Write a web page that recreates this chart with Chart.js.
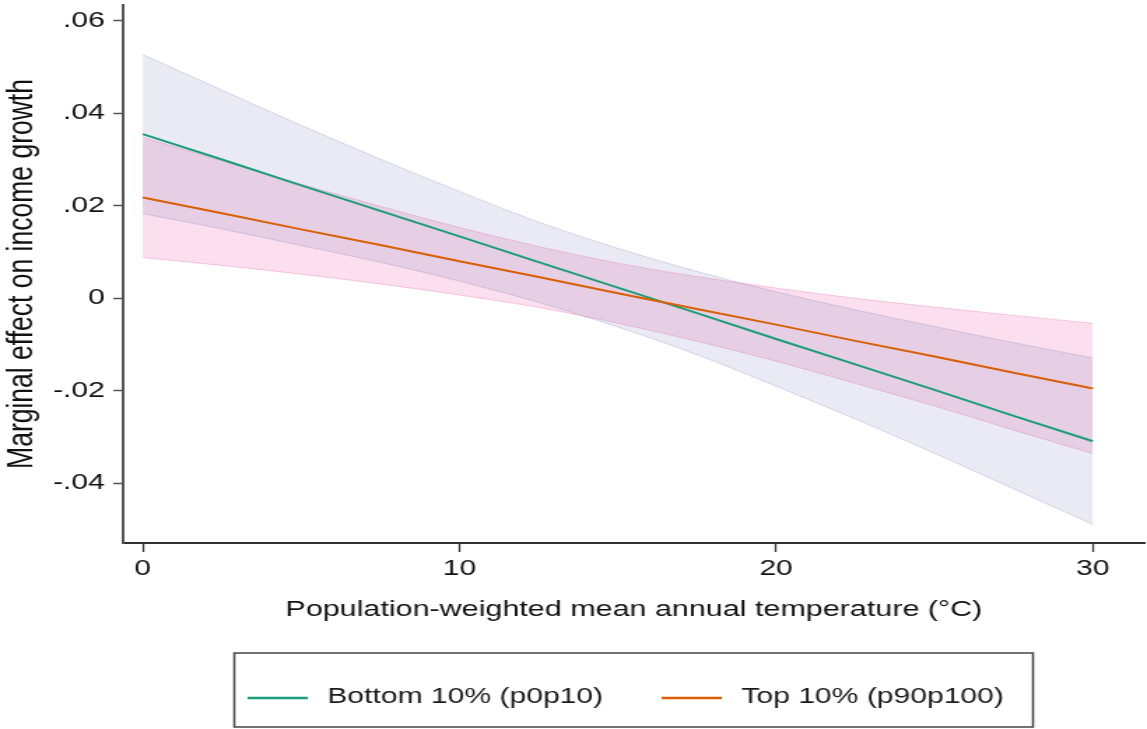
<!DOCTYPE html>
<html>
<head>
<meta charset="utf-8">
<script src="https://cdn.jsdelivr.net/npm/chart.js@4/dist/chart.umd.min.js"></script>
<style>
  html,body{margin:0;padding:0;background:#fff;overflow:hidden;}
  /* the reference is stretched sideways, so draw narrow and widen it */
  #wrap{width:820px;height:729px;transform:scaleX(1.39878);transform-origin:0 0;}
  #chart{display:block;}
</style>
</head>
<body>
<div id="wrap"><canvas id="chart" width="820" height="729"></canvas></div>
<script>
const temps=[0,2.5,5,7.5,10,12.5,15,17.5,20,22.5,25,27.5,30]
const bottomEffect=[0.0355,0.0300,0.0244,0.0189,0.0134,0.0078,0.0023,-0.0032,-0.0088,-0.0143,-0.0198,-0.0254,-0.0309]
const bottomUpper=[0.0527,0.0450,0.0374,0.0301,0.0231,0.0165,0.0108,0.0058,0.0014,-0.0025,-0.0061,-0.0096,-0.0129]
const bottomLower=[0.0183,0.0150,0.0114,0.0078,0.0037,-0.0009,-0.0062,-0.0122,-0.0190,-0.0261,-0.0335,-0.0412,-0.0489]
const topEffect=[0.0218,0.0184,0.0149,0.0115,0.0080,0.0046,0.0011,-0.0023,-0.0057,-0.0092,-0.0126,-0.0161,-0.0195]
const topUpper=[0.0348,0.0297,0.0247,0.0199,0.0153,0.0112,0.0076,0.0047,0.0022,0.0000,-0.0019,-0.0037,-0.0054]
const topLower=[0.0088,0.0071,0.0052,0.0031,0.0007,-0.0020,-0.0054,-0.0093,-0.0136,-0.0184,-0.0233,-0.0285,-0.0336]

const seriesNames=['Bottom 10% (p0p10)','Top 10% (p90p100)']
const xTicks=[0,10,20,30]
const yTicks=[0.06,0.04,0.02,0,-0.02,-0.04]
const yTickLabels=['.06','.04','.02','0','-.02','-.04']

const FONT='"Liberation Sans", Arial, sans-serif'
const green='#1b9e77'
const orange='#d95f02'

function pts(ys){
  return temps.map((t,i)=>({x:t,y:ys[i]}))
}

function band(ys,fill,col,edge){
  return {
    data:pts(ys),
    fill:fill,
    backgroundColor:col,
    borderColor:edge,
    borderWidth:1,
    pointRadius:0,
    cubicInterpolationMode:'monotone',
    order:2
  }
}

// no outer padding from edge labels, the plot box is fixed
function noEdgePad(s){
  s.paddingTop=0;s.paddingBottom=0;s.paddingLeft=0;s.paddingRight=0
}

const boxLegend={
  id:'boxLegend',
  afterDraw(chart){
    const ctx=chart.ctx
    ctx.save()
    ctx.strokeStyle='#444'
    ctx.lineWidth=1.5
    ctx.strokeRect(167.5,653,571,74)
    ctx.font='21.5px '+FONT
    ctx.textBaseline='middle'
    const starts=[177,473]
    const cols=[green,orange]
    seriesNames.forEach((name,i)=>{
      const x=starts[i]
      ctx.strokeStyle=cols[i]
      ctx.lineWidth=2.5
      ctx.beginPath()
      ctx.moveTo(x,698)
      ctx.lineTo(x+43,698)
      ctx.stroke()
      ctx.fillStyle='#1a1a1a'
      ctx.fillText(name,x+57,697)
    })
    ctx.restore()
  }
}

const ctx=document.getElementById('chart').getContext('2d')
const chart=new Chart(ctx,{
  type:'line',
  data:{
    datasets:[
      {label:seriesNames[1],data:pts(topEffect),borderColor:orange,borderWidth:2,pointRadius:0,fill:false,tension:0,order:0},
      {label:seriesNames[0],data:pts(bottomEffect),borderColor:green,borderWidth:2,pointRadius:0,fill:false,tension:0,order:1},
      band(bottomUpper,'+1','rgba(117,112,179,0.15)','rgba(117,112,179,0.25)'),
      band(bottomLower,false,'rgba(117,112,179,0.15)','rgba(117,112,179,0.25)'),
      band(topUpper,'+1','rgba(231,41,138,0.15)','rgba(231,41,138,0.22)'),
      band(topLower,false,'rgba(231,41,138,0.15)','rgba(231,41,138,0.22)')
    ]
  },
  options:{
    responsive:false,
    animation:false,
    devicePixelRatio:1,
    layout:{padding:{left:0,right:1.6,top:5,bottom:106}},
    plugins:{legend:{display:false},tooltip:{enabled:false}},
    scales:{
      x:{
        type:'linear',
        min:-0.62,
        max:31.64,
        afterBuildTicks:axis=>{axis.ticks=xTicks.map(v=>({value:v}))},
        afterFit:s=>{s.height=80;noEdgePad(s)},
        ticks:{font:{size:21.5,family:FONT},color:'#111',padding:4,maxRotation:0,callback:v=>String(v)},
        grid:{drawOnChartArea:false,tickLength:9,tickWidth:1.3,tickColor:'#333'},
        border:{color:'#333',width:2},
        title:{display:true,text:'Population-weighted mean annual temperature (°C)',font:{size:21.8,family:FONT},color:'#111',padding:0}
      },
      y:{
        type:'linear',
        min:-0.0529,
        max:0.0634,
        afterBuildTicks:axis=>{axis.ticks=yTicks.map(v=>({value:v}))},
        afterFit:s=>{s.width=88;noEdgePad(s)},
        ticks:{font:{size:21.5,family:FONT},color:'#111',padding:6,callback:v=>yTickLabels[yTicks.indexOf(v)]},
        grid:{drawOnChartArea:false,tickLength:7,tickWidth:1.5,tickColor:'#555'},
        border:{color:'#555',width:2},
        title:{display:true,text:'Marginal effect on income growth',font:{size:26.5,family:FONT,lineHeight:1.1},color:'#111',padding:{top:1.5,bottom:0}}
      }
    }
  },
  plugins:[boxLegend]
})
</script>
</body>
</html>
